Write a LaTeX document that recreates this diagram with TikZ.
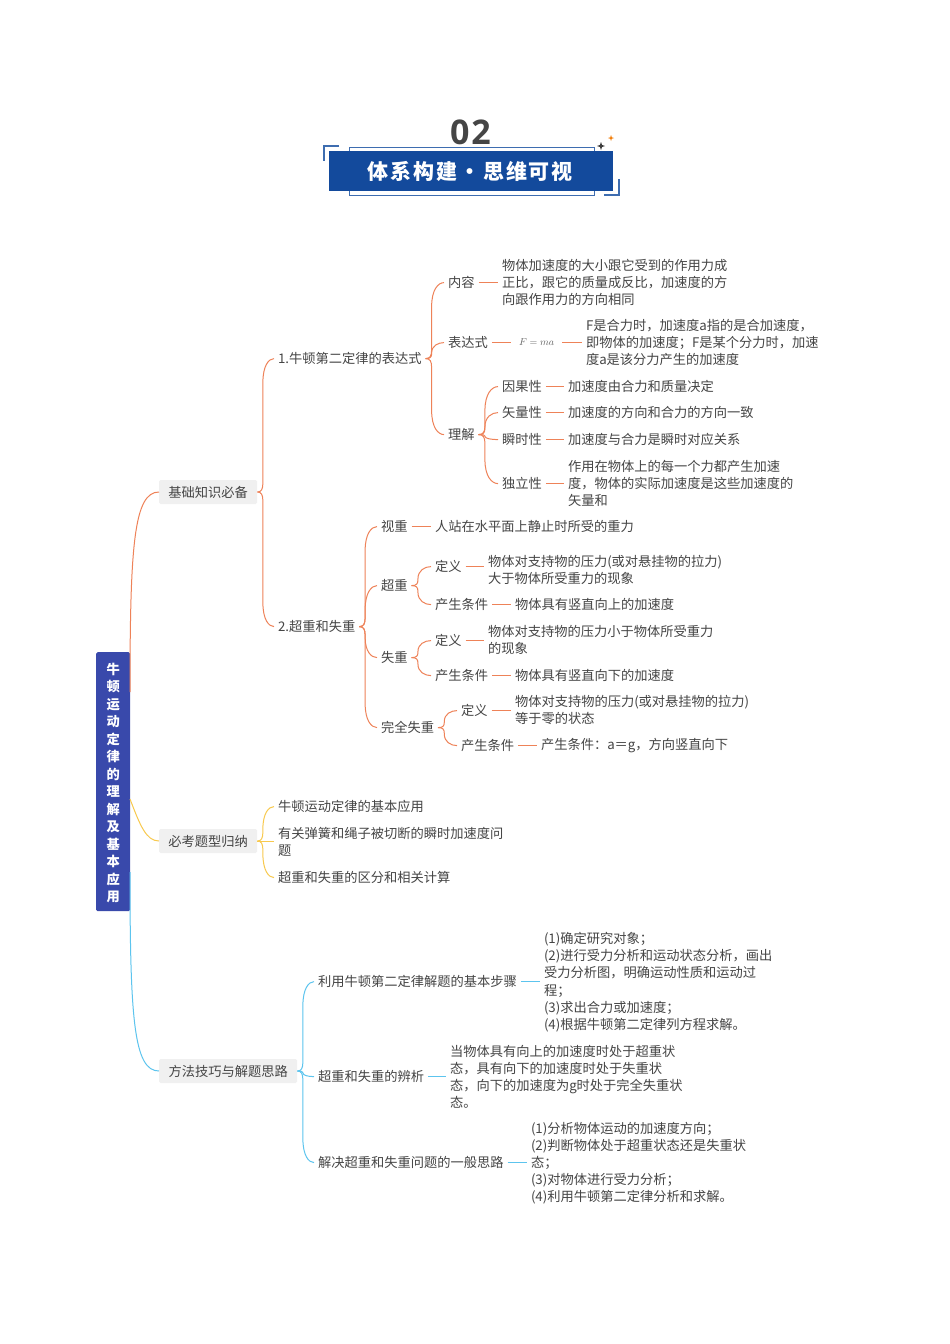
\documentclass[tikz,border=0pt]{standalone}
\usepackage{fontspec}
\setmainfont{Noto Sans CJK SC}
\newfontfamily\numfont{Open Sans}
\usetikzlibrary{calc}
\definecolor{txt}{HTML}{454545}
\definecolor{oline}{HTML}{EE8258}
\definecolor{yline}{HTML}{F8C94E}
\definecolor{bline}{HTML}{5CC4EE}
\definecolor{rootc}{HTML}{3949AB}
\definecolor{titlec}{HTML}{134A9C}
\definecolor{framec}{HTML}{3E6DB0}
\definecolor{graybox}{HTML}{F0F0F0}
\tikzset{
  x=1pt,y=-1pt,
  tx/.style={anchor=west,inner sep=0pt,outer sep=4pt,xshift=-4pt,yshift=-0.6pt,text=txt,align=left,
    font=\fontsize{13.25pt}{17.2pt}\selectfont},
  cat/.style={anchor=west,fill=graybox,rounded corners=1.5pt,inner sep=0pt,minimum height=24pt,
    text=txt,font=\fontsize{13.25pt}{17.2pt}\selectfont},
  conn/.style={line width=1pt},
  branch/.style={conn,to path={
    let \p1=(\tikztostart),\p2=(\tikztotarget),
        \n1={\y2-\y1},\n2={\x2-\x1},
        \n5={(\n1)/max(abs(\n1),0.01)},
        \n3={min(abs(\n1)*0.3,9)*\n5},
        \n6={min(abs(\n1)*0.65,24)*\n5},
        \n4={\x1+0.33*\n2}
    in .. controls ({\n4*1pt-1.5pt},\y1) and ({\n4*1pt},{\y1+0.3*\n3*1pt}) .. ({\n4*1pt},{\y1+\n3*1pt})
       -- ({\n4*1pt},{\y2-\n6*1pt})
       .. controls ({\n4*1pt},{\y2-0.3*\n6*1pt}) and ({\n4*1pt+0.35*\n2*1pt},\y2) .. (\tikztotarget)}},
}
\begin{document}
\begin{tikzpicture}
\useasboundingbox (0,0) rectangle (950,1344);
\fill[white] (0,0) rectangle (950,1344);

% title
\node[inner sep=0pt,text=txt,font=\numfont\bfseries\fontsize{34pt}{36pt}\selectfont] (num) at (470.5,132) {\addfontfeature{LetterSpace=6}02};
\draw[framec,line width=1pt] (349,151) -- (349,147) -- (594,147) -- (594,151);
\draw[framec,line width=1pt] (349,190) -- (349,195) -- (594,195) -- (594,190);
\draw[framec,line width=1.2pt] (339,146) -- (324,146) -- (324,161);
\draw[framec,line width=1.2pt] (604,195) -- (619,195) -- (619,179);
\node[fill=titlec,minimum width=284pt,minimum height=40pt,inner sep=0pt,anchor=north west,
  text=white,font=\bfseries\fontsize{21pt}{24pt}\selectfont] (title) at (329,151) {\addfontfeature{LetterSpace=9}体系构建\kern 2pt·\kern 3pt思维可视\kern 2pt};
\fill[txt!90!black] (601,142) .. controls (601.4,145) and (602,145.6) .. (605,146) .. controls (602,146.4) and (601.4,147) .. (601,150) .. controls (600.6,147) and (600,146.4) .. (597,146) .. controls (600,145.6) and (600.6,145) .. (601,142) -- cycle;
\fill[orange!80!brown] (611,135) .. controls (611.3,137.3) and (611.7,137.7) .. (614,138) .. controls (611.7,138.3) and (611.3,138.7) .. (611,141) .. controls (610.7,138.7) and (610.3,138.3) .. (608,138) .. controls (610.3,137.7) and (610.7,137.3) .. (611,135) -- cycle;

% root
\node[fill=rootc,rounded corners=1.5pt,minimum width=34pt,minimum height=259pt,inner sep=0pt,anchor=north west,
  text=white,align=center,font=\bfseries\fontsize{13.25pt}{17.5pt}\selectfont] (root) at (96,652)
  {\rule{0pt}{13.5pt}牛\\顿\\运\\动\\定\\律\\的\\理\\解\\及\\基\\本\\应\\用};
\coordinate (rootO) at (130,692);
\coordinate (rootY) at (130,799);
\coordinate (rootB) at (130,872);

% categories
\node[cat,minimum width=98pt] (c1) at (159,492) {基础知识必备};
\node[cat,minimum width=98pt] (c2) at (159,841) {必考题型归纳};
\node[cat,minimum width=138pt] (c3) at (159,1071) {方法技巧与解题思路};

\draw[conn,oline] (rootO) .. controls (130,545) and (134,492) .. (c1.west);
\draw[conn,yline] (rootY) .. controls (140,825) and (146,841) .. (c2.west);
\draw[conn,bline] (rootB) .. controls (130,1020) and (134,1071) .. (c3.west);

% ---- section 1
\node[tx] (a1) at (278,358) {1.牛顿第二定律的表达式};
\node[tx] (a2) at (278,626) {2.超重和失重};
\node[tx] (b1) at (448,282) {内容};
\node[tx] (b2) at (448,342) {表达式};
\node[tx] (b3) at (448,434) {理解};
\node[tx] (b1t) at (502,282) {物体加速度的大小跟它受到的作用力成\\正比，跟它的质量成反比，加速度的方\\向跟作用力的方向相同};
\node[anchor=west,inner sep=0pt,outer sep=8pt,xshift=-8pt,text=txt!85,font=\fontsize{10pt}{11pt}\selectfont] (b2m) at (519,342) {$F=ma$};
\node[tx] (b2t) at (586,342) {F是合力时，加速度a指的是合加速度，\\即物体的加速度；F是某个分力时，加速\\度a是该分力产生的加速度};
\node[tx] (u1) at (502,386) {因果性};
\node[tx] (u2) at (502,412) {矢量性};
\node[tx] (u3) at (502,439) {瞬时性};
\node[tx] (u4) at (502,483) {独立性};
\node[tx] (u1t) at (568,386) {加速度由合力和质量决定};
\node[tx] (u2t) at (568,412) {加速度的方向和合力的方向一致};
\node[tx] (u3t) at (568,439) {加速度与合力是瞬时对应关系};
\node[tx] (u4t) at (568,483) {作用在物体上的每一个力都产生加速\\度，物体的实际加速度是这些加速度的\\矢量和};

\node[tx] (d1) at (381,526) {视重};
\node[tx] (d2) at (381,585) {超重};
\node[tx] (d3) at (381,657) {失重};
\node[tx] (d4) at (381,727) {完全失重};
\node[tx] (d1t) at (435,526) {人站在水平面上静止时所受的重力};
\node[tx] (e1) at (435,566) {定义};
\node[tx] (e2) at (435,604) {产生条件};
\node[tx] (e1t) at (488,569.5) {物体对支持物的压力(或对悬挂物的拉力)\\大于物体所受重力的现象};
\node[tx] (e2t) at (515,604) {物体具有竖直向上的加速度};
\node[tx] (f1) at (435,640) {定义};
\node[tx] (f2) at (435,675) {产生条件};
\node[tx] (f1t) at (488,639.5) {物体对支持物的压力小于物体所受重力\\的现象};
\node[tx] (f2t) at (515,675) {物体具有竖直向下的加速度};
\node[tx] (g1) at (461,710) {定义};
\node[tx] (g2) at (461,745) {产生条件};
\node[tx] (g1t) at (515,709.5) {物体对支持物的压力(或对悬挂物的拉力)\\等于零的状态};
\node[tx] (g2t) at (541,745) {产生条件：a＝g，方向竖直向下};

\begin{scope}[oline]
\foreach \p/\c in {c1/a1,c1/a2,a1/b1,a1/b2,a1/b3,b3/u1,b3/u2,b3/u3,b3/u4,a2/d1,a2/d2,a2/d3,a2/d4,d2/e1,d2/e2,d3/f1,d3/f2,d4/g1,d4/g2}
  \draw[branch] (\p.east) to (\c.west);
\foreach \p/\c in {b1/b1t,b2/b2m,b2m/b2t,u1/u1t,u2/u2t,u3/u3t,u4/u4t,d1/d1t,e1/e1t,e2/e2t,f1/f1t,f2/f2t,g1/g1t,g2/g2t}
  \draw[conn] (\p.east) -- (\p.east -| \c.west);
\end{scope}

% ---- section 2
\node[tx] (h1) at (278,806) {牛顿运动定律的基本应用};
\node[tx] (h2) at (278,841.5) {有关弹簧和绳子被切断的瞬时加速度问\\题};
\node[tx] (h3) at (278,877) {超重和失重的区分和相关计算};
\draw[branch,yline] (c2.east) to (h1.west);
\draw[conn,yline] (c2.east) -- (c2.east -| h2.west);
\draw[branch,yline] (c2.east) to (h3.west);

% ---- section 3
\node[tx] (k1) at (318,981) {利用牛顿第二定律解题的基本步骤};
\node[tx] (k2) at (318,1076) {超重和失重的辨析};
\node[tx] (k3) at (318,1162) {解决超重和失重问题的一般思路};
\node[tx] (k1t) at (544,981.5) {(1)确定研究对象；\\(2)进行受力分析和运动状态分析，画出\\受力分析图，明确运动性质和运动过\\程；\\(3)求出合力或加速度；\\(4)根据牛顿第二定律列方程求解。};
\node[tx] (k2t) at (450,1076) {当物体具有向上的加速度时处于超重状\\态，具有向下的加速度时处于失重状\\态，向下的加速度为g时处于完全失重状\\态。};
\node[tx] (k3t) at (531,1162.5) {(1)分析物体运动的加速度方向；\\(2)判断物体处于超重状态还是失重状\\态；\\(3)对物体进行受力分析；\\(4)利用牛顿第二定律分析和求解。};
\foreach \c in {k1,k2,k3} \draw[branch,bline] (c3.east) to (\c.west);
\foreach \p/\c in {k1/k1t,k2/k2t,k3/k3t} \draw[conn,bline] (\p.east) -- (\p.east -| \c.west);
\end{tikzpicture}
\end{document}
